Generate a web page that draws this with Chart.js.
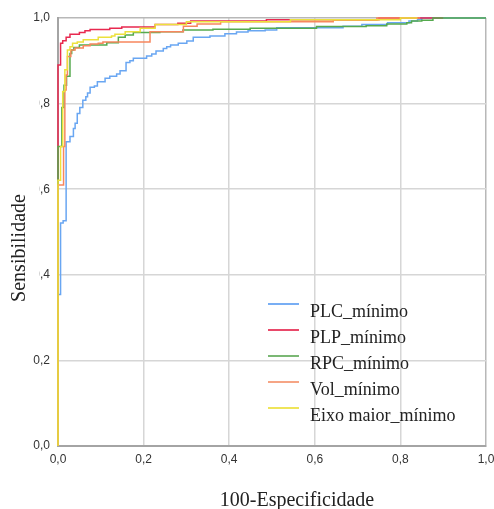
<!DOCTYPE html>
<html>
<head>
<meta charset="utf-8">
<script src="https://cdn.jsdelivr.net/npm/chart.js@4/dist/chart.umd.min.js"></script>
<style>
html,body{margin:0;padding:0;background:#fff;}
#wrap{width:494px;height:509px;position:relative;}
</style>
</head>
<body>
<div id="wrap"><canvas id="c" width="494" height="509"></canvas></div>
<script>
// ---- data (ROC step corners: x = 1-specificity, y = sensitivity) ----
const seriesNames = ['PLC_mínimo','PLP_mínimo','RPC_mínimo','Vol_mínimo','Eixo maior_mínimo'];
const seriesColors = ['#69a6f2','#e8294f','#55aa4e','#f7875e','#ece13c'];
const legendColors = ['#78aef4','#e9496a','#7bb874','#f6a585','#efe55a'];

const plcX = [0,0,0.006,0.012,0.019,0.028,0.036,0.040,0.045,0.051,0.058,0.065,0.069,0.075,0.085,0.092,0.110,0.121,0.137,0.145,0.159,0.168,0.176,0.207,0.219,0.229,0.246,0.254,0.263,0.281,0.301,0.316,0.355,0.390,0.417,0.444,0.484,0.511,0.666,0.710,0.770,0.820,0.840,0.850,1.0];
const plcY = [0,0.318,0.354,0.521,0.526,0.711,0.723,0.742,0.754,0.777,0.791,0.808,0.816,0.825,0.838,0.841,0.851,0.859,0.864,0.869,0.877,0.896,0.900,0.906,0.911,0.916,0.923,0.929,0.933,0.937,0.941,0.946,0.955,0.958,0.963,0.967,0.970,0.972,0.977,0.981,0.985,0.989,0.993,0.997,1.0];

const plpX = [0,0,0.006,0.011,0.019,0.028,0.050,0.063,0.075,0.121,0.149,0.227,0.280,0.310,0.487,0.750,0.900];
const plpY = [0,0.773,0.890,0.941,0.947,0.955,0.962,0.966,0.970,0.973,0.976,0.979,0.985,0.988,0.993,0.996,1.0];

const rpcX = [0,0,0.009,0.014,0.020,0.028,0.032,0.037,0.050,0.114,0.141,0.157,0.176,0.238,0.292,0.362,0.449,0.604,0.720,0.768,0.815,0.826,0.850,0.876,1.0];
const rpcY = [0,0.626,0.700,0.791,0.843,0.864,0.917,0.925,0.931,0.937,0.942,0.955,0.960,0.966,0.968,0.972,0.974,0.976,0.980,0.982,0.986,0.989,0.993,0.995,1.0];

const volX = [0,0,0.013,0.016,0.019,0.022,0.030,0.040,0.059,0.075,0.094,0.105,0.215,0.293,0.325,0.380,0.643,0.745,0.846];
const volY = [0,0.561,0.610,0.700,0.832,0.867,0.910,0.925,0.930,0.935,0.939,0.941,0.944,0.968,0.981,0.986,0.991,0.995,1.0];

const eixoX = [0,0,0.006,0.011,0.016,0.022,0.028,0.034,0.045,0.059,0.094,0.125,0.133,0.157,0.192,0.227,0.300,0.543,0.800,0.840];
const eixoY = [0,0.535,0.621,0.700,0.828,0.879,0.925,0.933,0.941,0.944,0.949,0.955,0.958,0.962,0.968,0.976,0.985,0.991,0.996,1.0];

const tickLabels = ['0,0','0,2','0,4','0,6','0,8','1,0'];
const xTitle = '100-Especificidade';
const yTitle = 'Sensibilidade';

const allX = [plcX, plpX, rpcX, volX, eixoX];
const allY = [plcY, plpY, rpcY, volY, eixoY];

const datasets = seriesNames.map((name, i) => ({
  label: name,
  data: allX[i].map((x, k) => ({x: x, y: allY[i][k]})),
  borderColor: seriesColors[i],
  backgroundColor: seriesColors[i],
  borderWidth: 1.5,
  pointRadius: 0,
  stepped: 'after',
  fill: false,
  clip: false,
  order: 5 - i
}));

const fmt = v => tickLabels[Math.round(v / 0.2)] ?? '';

const overlay = {
  id: 'overlay',
  afterDraw(chart) {
    const ctx = chart.ctx;
    ctx.save();
    // clipped tick labels as in the reference
    ctx.fillStyle = '#ffffff';
    ctx.fillRect(28, 92, 11.5, 195);
    // axis titles
    ctx.fillStyle = '#222';
    ctx.font = '20px "Liberation Serif", "Times New Roman", serif';
    ctx.textAlign = 'center';
    ctx.textBaseline = 'alphabetic';
    ctx.fillText(xTitle, 297, 506);
    ctx.save();
    ctx.translate(25, 248);
    ctx.rotate(-Math.PI / 2);
    ctx.fillText(yTitle, 0, 0);
    ctx.restore();
    // legend
    ctx.font = '18px "Liberation Serif", "Times New Roman", serif';
    ctx.textAlign = 'left';
    chart.data.datasets.forEach((ds, i) => {
      const y = 304 + 26 * i;
      ctx.strokeStyle = legendColors[i];
      ctx.lineWidth = 2;
      ctx.beginPath();
      ctx.moveTo(268, y);
      ctx.lineTo(299, y);
      ctx.stroke();
      ctx.fillStyle = '#222';
      ctx.fillText(ds.label, 310, y + 13);
    });
    ctx.restore();
  }
};

const gridColor = c => (c.tick && c.tick.value === 1) ? '#b8b8b8' : '#d6d6d6';

new Chart(document.getElementById('c'), {
  type: 'line',
  data: { datasets },
  options: {
    responsive: false,
    animation: false,
    layout: { padding: { top: 18, right: 8, left: 0, bottom: 0 } },
    plugins: { legend: { display: false }, tooltip: { enabled: false } },
    scales: {
      x: {
        type: 'linear', min: 0, max: 1,
        ticks: { stepSize: 0.2, callback: fmt, color: '#333', padding: 6, maxRotation: 0,
                 font: { family: '"Liberation Sans", Arial, sans-serif', size: 12 } },
        grid: { color: gridColor, lineWidth: 1.5, drawTicks: false },
        border: { color: '#a4a4a4', width: 2 },
        afterFit: s => { s.height = 63; s.paddingRight = 0; s.paddingLeft = 0; }
      },
      y: {
        type: 'linear', min: 0, max: 1,
        ticks: { stepSize: 0.2, callback: fmt, color: '#333', padding: 8,
                 font: { family: '"Liberation Sans", Arial, sans-serif', size: 12 } },
        grid: { color: gridColor, lineWidth: 1.5, drawTicks: false },
        border: { color: '#a4a4a4', width: 2 },
        afterFit: s => { s.width = 58; s.paddingTop = 0; s.paddingBottom = 0; }
      }
    }
  },
  plugins: [overlay]
});
</script>
</body>
</html>
